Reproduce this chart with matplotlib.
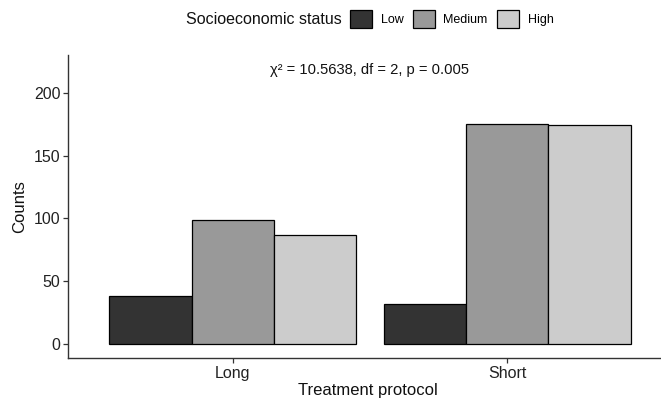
import matplotlib
matplotlib.use("Agg")
import matplotlib.pyplot as plt
import numpy as np
from matplotlib.patches import Patch

plt.rcParams['font.family'] = ['Liberation Sans', 'DejaVu Sans']

protocols = ["Long", "Short"]
statuses = ["Low", "Medium", "High"]
counts = {
    "Low": [38, 32],
    "Medium": [99, 175],
    "High": [87, 174],
}
colors = {"Low": "#333333", "Medium": "#999999", "High": "#cccccc"}
annotation = "χ² = 10.5638, df = 2, p = 0.005"

W, H = 661, 400
fig = plt.figure(figsize=(W / 100, H / 100), dpi=100)
L, R, T, B = 68, 661, 55, 358
ax = fig.add_axes([L / W, 1 - B / H, (R - L) / W, (B - T) / H])

x = np.arange(len(protocols))
bw = 0.3
for i, s in enumerate(statuses):
    ax.bar(x + (i - 1) * bw, counts[s], width=bw, color=colors[s],
           edgecolor="black", linewidth=0.9, label=s, zorder=2)

ax.set_xlim(-0.6, 1.56)
ax.set_ylim(-11, 230)
ax.set_xticks(x)
ax.set_xticklabels(protocols)
ax.set_yticks([0, 50, 100, 150, 200])

for sp in ["top", "right"]:
    ax.spines[sp].set_visible(False)
for sp in ["left", "bottom"]:
    ax.spines[sp].set_color("#333333")
    ax.spines[sp].set_linewidth(1.0)
ax.tick_params(axis="both", length=3.5, width=0.9, color="#333333",
               labelsize=11.5, labelcolor="#222222", pad=2)

ax.set_ylabel("Counts", fontsize=12, color="#111111", labelpad=5)
ax.set_xlabel("Treatment protocol", fontsize=12, color="#111111")
ax.xaxis.set_label_coords((368 - L) / (R - L), -(390 - B) / (B - T))
ax.xaxis.label.set_va("center")

ax.text(0.5, 218, annotation, ha="center", va="center", fontsize=10.6,
        color="#111111")

fig.text(186 / W, 1 - 19 / H, "Socioeconomic status", ha="left", va="center",
         fontsize=11.5, color="#111111")
handles = [Patch(facecolor=colors[s], edgecolor="black", linewidth=0.9) for s in statuses]
leg = fig.legend(handles, statuses, loc="center left",
                 bbox_to_anchor=(350 / W, 1 - 19 / H), ncol=3, frameon=False,
                 fontsize=9, handlelength=1.75, handleheight=1.9,
                 handletextpad=0.7, columnspacing=0.75, borderaxespad=0,
                 borderpad=0)

fig.savefig("out.png", dpi=100)
